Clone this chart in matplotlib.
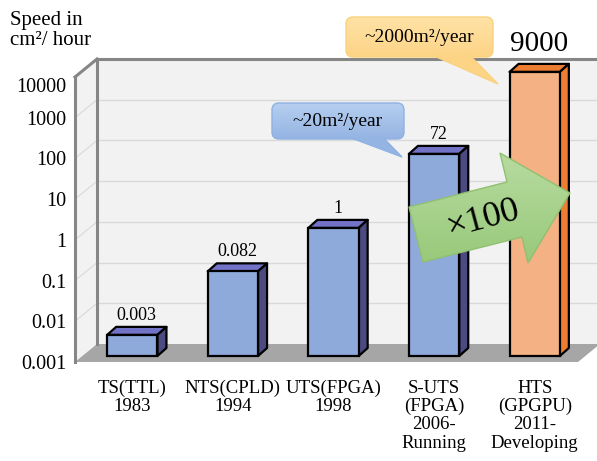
import numpy as np
import matplotlib
matplotlib.use("Agg")
import matplotlib.pyplot as plt
import matplotlib.transforms as mtransforms
from matplotlib.patches import Polygon, FancyBboxPatch
from matplotlib.colors import LinearSegmentedColormap

plt.rcParams['font.family'] = ['Liberation Serif', 'DejaVu Serif']

# data
categories = ["TS(TTL)\n1983", "NTS(CPLD)\n1994", "UTS(FPGA)\n1998",
              "S-UTS\n(FPGA)\n2006-\nRunning", "HTS\n(GPGPU)\n2011-\nDeveloping"]
speed = [0.0033, 0.12, 1.4, 92, 9500]          # bar heights as drawn
speed_labels = ["0.003", "0.082", "1", "72", "9000"]
yticks = [1e-3, 1e-2, 1e-1, 1, 10, 100, 1000, 10000]
ytick_labels = ["0.001", "0.01", "0.1", "1", "10", "100", "1000", "10000"]

W, H = 597, 461
fig = plt.figure(figsize=(W / 100, H / 100), dpi=100)
ax = fig.add_axes([75 / W, (H - 362) / H, 503 / W, 285 / H])
ax.set_yscale('log')
ax.set_xlim(-0.5, 4.5)
ax.set_ylim(1e-3, 1e4)
ax.patch.set_visible(False)
for s in ax.spines.values():
    s.set_visible(False)

PX_X = 503 / 5.0
PX_DEC = 285 / 7.0


def off(x, y, dx, dy):
    # shift a data point by dx, dy pixels (depth of the fake 3d)
    return (x + dx / PX_X, y * 10 ** (dy / PX_DEC))


WALL = (22, 18)
x0, x1, ylo, yhi = -0.5, 4.5, 1e-3, 1e4

# back wall, side wall, floor
back = [off(x0, ylo, *WALL), off(x1 + 0.3, ylo, *WALL), off(x1 + 0.3, yhi, *WALL), off(x0, yhi, *WALL)]
ax.add_patch(Polygon(back, closed=True, fc='#f2f2f2', ec='none', zorder=0, clip_on=False))
side = [(x0, ylo), (x0, yhi), off(x0, yhi, *WALL), off(x0, ylo, *WALL)]
ax.add_patch(Polygon(side, closed=True, fc='#f2f2f2', ec='none', zorder=0, clip_on=False))
for d in yticks[1:-1]:
    a = off(x0, d, *WALL)
    b = off(x1 + 0.3, d, *WALL)
    ax.plot([a[0], b[0]], [a[1], b[1]], color='#d9d9d9', lw=1, zorder=0.5, clip_on=False)
    ax.plot([x0, a[0]], [d, a[1]], color='#d9d9d9', lw=0.8, zorder=0.5, clip_on=False)
floor = [(x0, ylo), (x1, ylo), off(x1, ylo, *WALL), off(x0, ylo, *WALL)]
ax.add_patch(Polygon(floor, closed=True, fc='#a6a6a6', ec='none', zorder=1, clip_on=False))

edge = dict(color='#868686', lw=2.2, zorder=1.5, clip_on=False, solid_capstyle='projecting')
a = off(x0, yhi, *WALL)
b = off(x0, ylo, *WALL)
c = off(x1 + 0.3, yhi, *WALL)
ax.plot([x0, x0], [ylo, yhi], **edge)
ax.plot([x0, a[0]], [yhi, a[1]], **edge)
ax.plot([b[0], a[0]], [b[1], a[1]], **edge)
ax.plot([a[0], c[0]], [a[1], c[1]], **edge)

# bars
bw = 0.5
FRONT = (7, 6)
DEPTH = (9, 8)
front_cols = ['#8eaadb'] * 4 + ['#f4b183']
top_cols = ['#7272c6'] * 4 + ['#ed7d31']
side_cols = ['#4b4b82'] * 4 + ['#ed7d31']
xs = np.arange(len(speed))
shift = FRONT[0] / PX_X
k = 10 ** (FRONT[1] / PX_DEC)
base = ylo * k
for i, v in enumerate(speed):
    top = v * k
    l = xs[i] - bw / 2 + shift
    r = l + bw
    topf = [(l, top), (r, top), off(r, top, *DEPTH), off(l, top, *DEPTH)]
    sidef = [(r, base), (r, top), off(r, top, *DEPTH), off(r, base, *DEPTH)]
    ax.add_patch(Polygon(topf, closed=True, fc=top_cols[i], ec='black', lw=1.6,
                         joinstyle='round', zorder=3, clip_on=False))
    ax.add_patch(Polygon(sidef, closed=True, fc=side_cols[i], ec='black', lw=1.6,
                         joinstyle='round', zorder=3, clip_on=False))
bars = ax.bar(xs + shift, [v * k - base for v in speed], bottom=base, width=bw, align='center',
              color=front_cols, edgecolor='black', linewidth=1.6, zorder=4)
for b_ in bars:
    b_.set_clip_on(False)

for i, v in enumerate(speed):
    lx, ly = off(xs[i] + shift, v * k, DEPTH[0] / 2, DEPTH[1])
    big = i == len(speed) - 1
    ax.annotate(speed_labels[i], (lx, ly), xytext=(0, 14 if big else 8.5),
                textcoords='offset points', ha='center', va='center',
                fontsize=21 if big else 13, zorder=5, annotation_clip=False)

ax.set_yticks(yticks)
ax.set_yticklabels(ytick_labels, fontsize=14.5)
ax.minorticks_off()
ax.tick_params(axis='y', length=0, pad=6)
# top label sits a little lower in the original
toplab = ax.get_yticklabels()[-1]
toplab.set_transform(toplab.get_transform() +
                     mtransforms.ScaledTranslation(0, -0.08, fig.dpi_scale_trans))
ax.set_xticks(xs + shift)
ax.set_xticklabels(categories, fontsize=13.5, linespacing=1.08)
ax.tick_params(axis='x', length=0, pad=13)

# overlay in pixel units for the callouts and the arrow
ov = fig.add_axes([0, 0, 1, 1], zorder=5)
ov.set_xlim(0, W)
ov.set_ylim(H, 0)
ov.axis('off')


def grad(patch, c_top, c_bot, y0, y1, xa, xb):
    cm = LinearSegmentedColormap.from_list('g', [c_top, c_bot])
    im = ov.imshow(np.linspace(0, 1, 64)[:, None], cmap=cm, origin='lower',
                   extent=(xa, xb, y0, y1), aspect='auto', zorder=patch.get_zorder() - 0.1)
    im.set_clip_path(patch)


def callout(x, y, w, h, tail, text, c_top, c_bot, ec):
    box = FancyBboxPatch((x, y), w, h, boxstyle="round,pad=0,rounding_size=7",
                         fc='none', ec=ec, lw=1, zorder=6)
    ov.add_patch(box)
    grad(box, c_top, c_bot, y, y + h, x, x + w)
    (ta, tb, tip) = tail
    tl = Polygon([(ta, y + h - 1.5), tip, (tb, y + h - 1.5)], closed=False,
                 fc=c_bot, ec=ec, lw=1, zorder=6.1)
    ov.add_patch(tl)
    ov.text(x + w / 2, y + h / 2, text, ha='center', va='center', fontsize=14, zorder=7)


callout(272, 103, 132, 36, (350, 383, (402, 157)), "~20m²/year", '#b7cff0', '#94b4e3', '#8fb2e2')
callout(346, 17, 147, 40, (433, 470, (498, 84)), "~2000m²/year", '#ffe2a6', '#fdd486', '#f9d27e')

arrow = Polygon([(409, 207), (507, 182), (500, 153), (570, 193), (528, 263), (522, 237), (423, 262)],
                closed=True, fc='none', ec='#90c070', lw=1, zorder=6)
ov.add_patch(arrow)
grad(arrow, '#b8dba0', '#98c97a', 150, 265, 405, 572)
ov.text(483, 219, "×100", ha='center', va='center', fontsize=26, rotation=15, zorder=7)

fig.text(10 / W, 1 - 11 / H, "Speed in\ncm²/ hour", ha='left', va='top', fontsize=15, linespacing=1.05)

fig.savefig("out.png", dpi=100)
